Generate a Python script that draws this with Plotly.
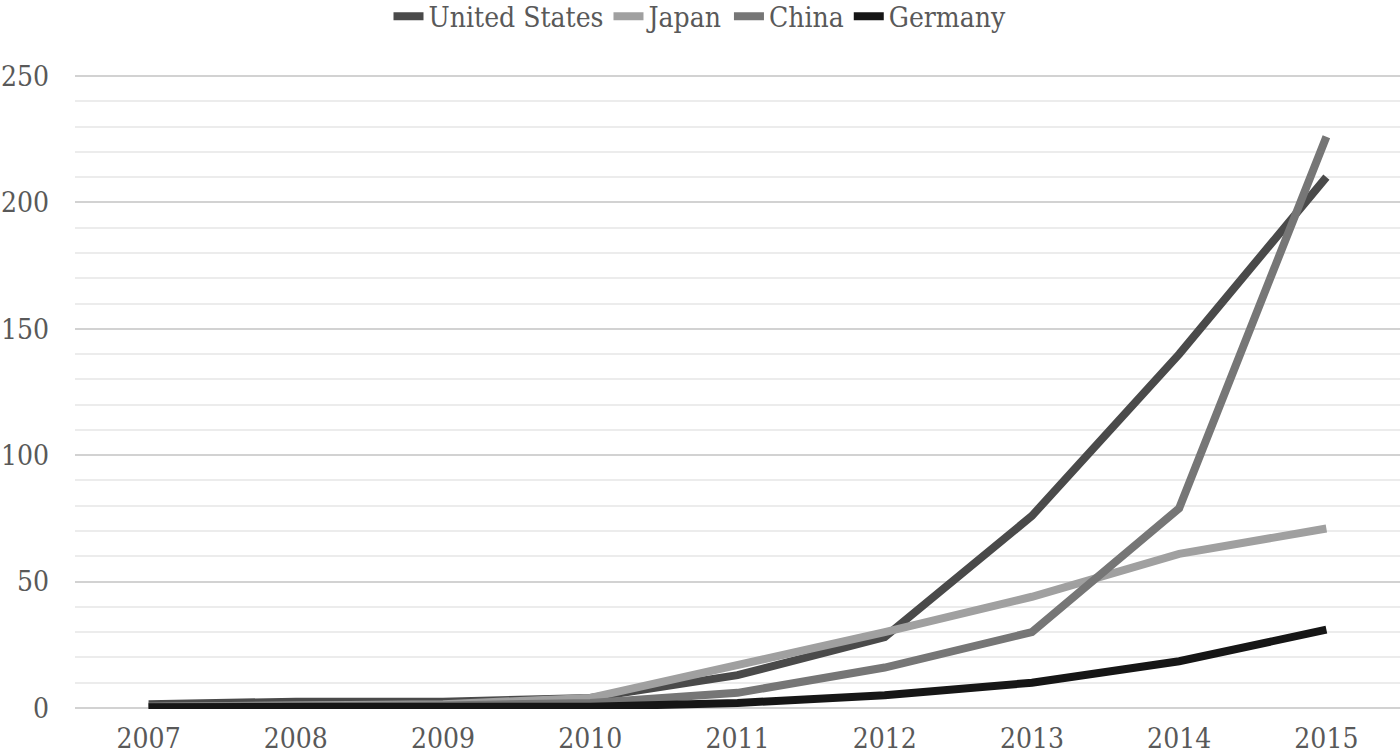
import plotly.graph_objects as go

years = [2007, 2008, 2009, 2010, 2011, 2012, 2013, 2014, 2015]
united_states = [1.5, 2.5, 2.5, 4, 13, 28, 76, 140, 210]
japan = [0.5, 1, 1.5, 4, 17, 30, 44, 61, 71]
china = [0.5, 0.5, 1, 2, 6, 16, 30, 79, 226]
germany = [0.3, 0.3, 0.5, 0.5, 2, 5, 10, 18.5, 31]

series = [
    ("United States", united_states, "#4a4a4a"),
    ("Japan", japan, "#a0a0a0"),
    ("China", china, "#767676"),
    ("Germany", germany, "#161616"),
]

font_family = "DejaVu Serif Condensed, DejaVu Serif, serif"
text_color = "#595959"

fig = go.Figure()
for name, vals, color in series:
    fig.add_trace(go.Scatter(
        x=years, y=vals, name=name, mode="lines",
        line=dict(color=color, width=8),
    ))

fig.update_layout(
    width=1400, height=756,
    margin=dict(l=75, r=0, t=75, b=47, autoexpand=False),
    paper_bgcolor="white", plot_bgcolor="white",
    font=dict(family=font_family, size=28, color=text_color),
    showlegend=True,
    legend=dict(
        orientation="h", xref="container", yref="container",
        x=0.5, xanchor="center", y=0.978, yanchor="middle",
        font=dict(family=font_family, size=28, color=text_color),
        tracegroupgap=0,
        bgcolor="rgba(0,0,0,0)",
    ),
    xaxis=dict(
        range=[2006.5, 2015.5], tickvals=years,
        ticktext=[str(y) for y in years],
        showgrid=False, zeroline=False, showline=False, ticks="",
        automargin=False, ticklabelstandoff=10,
        tickfont=dict(family=font_family, size=28, color=text_color),
        fixedrange=True,
    ),
    yaxis=dict(
        range=[-0.4, 250.4], tick0=0, dtick=50,
        showgrid=True, gridcolor="#d2d2d2", gridwidth=2,
        zeroline=False, showline=False, ticks="",
        automargin=False, ticklabelstandoff=25,
        tickfont=dict(family=font_family, size=28, color=text_color),
        minor=dict(dtick=10, showgrid=True, gridcolor="#ececec", gridwidth=2),
        fixedrange=True,
    ),
)

fig.write_html(
    "out.html",
    config={"displayModeBar": False},
    post_script="document.body.style.margin='0px';document.body.style.overflow='hidden';",
)
